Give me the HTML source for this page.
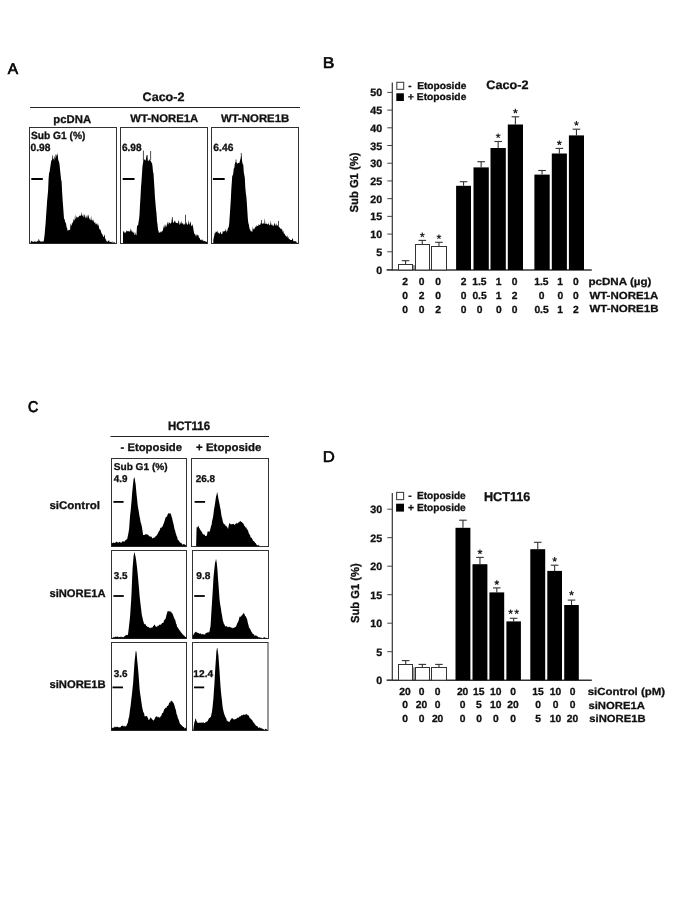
<!DOCTYPE html>
<html><head><meta charset="utf-8"><style>
html,body{margin:0;padding:0;background:#fff;}
svg{display:block;will-change:transform;}
text{font-family:"Liberation Sans",sans-serif;text-rendering:geometricPrecision;}
</style></head><body>
<svg width="685" height="913" viewBox="0 0 685 913">
<rect width="685" height="913" fill="#fff"/>
<text transform="translate(7.67,73.60) scale(0.9974,1)" font-size="15.60" font-weight="normal" fill="#000" stroke="#000" stroke-width="0.652">A</text>
<text transform="translate(142.57,100.60) scale(1.0309,1)" font-size="12.20" font-weight="bold" fill="#111" stroke="#111" stroke-width="0.291">Caco-2</text>
<line x1="30" y1="107.5" x2="300" y2="107.5" stroke="#222" stroke-width="1.1"/>
<text transform="translate(53.35,122.50) scale(1.0135,1)" font-size="11.20" font-weight="bold" fill="#111" stroke="#111" stroke-width="0.296">pcDNA</text>
<text transform="translate(130.28,122.10) scale(1.0306,1)" font-size="11.00" font-weight="bold" fill="#111" stroke="#111" stroke-width="0.291">WT-NORE1A</text>
<text transform="translate(220.98,122.10) scale(1.0340,1)" font-size="11.00" font-weight="bold" fill="#111" stroke="#111" stroke-width="0.290">WT-NORE1B</text>
<rect x="29.50" y="127.50" width="87.00" height="116.00" fill="none" stroke="#333" stroke-width="1"/>
<rect x="120.50" y="127.50" width="87.00" height="116.00" fill="none" stroke="#333" stroke-width="1"/>
<rect x="211.50" y="127.50" width="87.00" height="116.00" fill="none" stroke="#333" stroke-width="1"/>
<text transform="translate(30.89,138.50) scale(0.9846,1)" font-size="10.40" font-weight="bold" fill="#111" stroke="#111" stroke-width="0.305">Sub G1 (%)</text>
<text transform="translate(30.49,150.60) scale(0.9841,1)" font-size="10.40" font-weight="bold" fill="#111" stroke="#111" stroke-width="0.305">0.98</text>
<text transform="translate(121.94,150.60) scale(0.9718,1)" font-size="10.40" font-weight="bold" fill="#111" stroke="#111" stroke-width="0.309">6.98</text>
<text transform="translate(213.33,150.60) scale(0.9903,1)" font-size="10.40" font-weight="bold" fill="#111" stroke="#111" stroke-width="0.303">6.46</text>
<path d="M30.6,243.3 L30.6,241.8 L31.1,241.6 L31.6,240.5 L32.1,241.7 L32.6,241.6 L33.1,241.5 L33.6,241.9 L34.1,241.6 L34.6,241.4 L35.1,240.9 L35.6,241.9 L36.1,241.7 L36.6,241.9 L37.1,240.8 L37.6,241.1 L38.1,241.8 L38.6,239.1 L39.1,239.5 L39.6,241.1 L40.1,241.1 L40.6,241.7 L41.1,241.7 L41.6,241.2 L42.1,241.7 L42.6,241.5 L43.1,241.5 L43.6,241.6 L44.1,238.8 L44.6,234.8 L45.1,228.7 L45.6,223.2 L46.1,215.4 L46.6,208.7 L47.1,201.0 L47.6,195.9 L48.1,190.5 L48.6,178.7 L49.1,173.0 L49.6,171.9 L50.1,168.3 L50.6,165.0 L51.1,161.4 L51.6,160.3 L52.1,159.7 L52.6,157.5 L53.1,159.6 L53.6,158.1 L54.1,160.9 L54.6,156.1 L55.1,157.0 L55.6,158.7 L56.1,157.6 L56.6,154.3 L57.1,157.3 L57.6,152.2 L58.1,159.0 L58.6,161.0 L59.1,161.9 L59.6,164.9 L60.1,170.6 L60.6,174.8 L61.1,179.8 L61.6,181.6 L62.1,191.3 L62.6,199.9 L63.1,206.2 L63.6,213.0 L64.1,219.7 L64.6,218.5 L65.1,222.1 L65.6,222.4 L66.1,224.1 L66.6,227.3 L67.1,228.0 L67.6,231.3 L68.1,229.6 L68.6,230.8 L69.1,229.9 L69.6,230.1 L70.1,229.5 L70.6,223.2 L71.1,225.1 L71.6,225.9 L72.1,221.8 L72.6,223.7 L73.1,222.1 L73.6,219.0 L74.1,219.8 L74.6,220.7 L75.1,213.9 L75.6,219.3 L76.1,218.6 L76.6,216.1 L77.1,217.5 L77.6,217.3 L78.1,217.4 L78.6,217.1 L79.1,215.5 L79.6,216.2 L80.1,215.0 L80.6,215.9 L81.1,215.7 L81.6,211.7 L82.1,215.9 L82.6,215.7 L83.1,213.9 L83.6,217.0 L84.1,217.3 L84.6,214.0 L85.1,215.4 L85.6,217.9 L86.1,218.2 L86.6,216.6 L87.1,214.4 L87.6,218.7 L88.1,214.4 L88.6,215.9 L89.1,218.1 L89.6,218.8 L90.1,219.8 L90.6,220.3 L91.1,215.4 L91.6,220.6 L92.1,219.4 L92.6,221.2 L93.1,219.3 L93.6,220.9 L94.1,222.3 L94.6,223.1 L95.1,221.8 L95.6,224.2 L96.1,224.4 L96.6,224.0 L97.1,222.8 L97.6,224.8 L98.1,226.6 L98.6,223.8 L99.1,228.2 L99.6,229.2 L100.1,229.5 L100.6,230.1 L101.1,232.2 L101.6,233.2 L102.1,234.1 L102.6,234.7 L103.1,236.9 L103.6,237.1 L104.1,235.4 L104.6,234.2 L105.1,238.4 L105.6,239.0 L106.1,240.0 L106.6,241.3 L107.1,241.7 L107.6,241.8 L108.1,240.3 L108.6,241.2 L109.1,240.0 L109.6,242.3 L110.1,241.8 L110.6,242.1 L111.1,241.9 L111.6,242.5 L112.1,240.7 L112.6,242.9 L113.1,242.6 L113.6,242.4 L114.1,242.1 L114.6,242.6 L115.1,242.8 L115.4,243.3 Z" fill="#000"/>
<line x1="52.6" y1="155.5" x2="52.6" y2="161.5" stroke="#000" stroke-width="0.7"/>
<line x1="55.8" y1="154.5" x2="55.8" y2="160.5" stroke="#000" stroke-width="0.7"/>
<line x1="57.4" y1="155" x2="57.4" y2="160" stroke="#000" stroke-width="0.7"/>
<path d="M123.0,243.3 L123.0,231.9 L123.5,231.2 L124.0,231.2 L124.5,232.7 L125.0,232.9 L125.5,232.2 L126.0,232.4 L126.5,230.3 L127.0,231.0 L127.5,231.3 L128.0,231.3 L128.5,230.7 L129.0,232.0 L129.5,231.2 L130.0,231.6 L130.5,228.0 L131.0,231.7 L131.5,229.5 L132.0,232.5 L132.5,231.1 L133.0,232.7 L133.5,233.0 L134.0,231.2 L134.5,234.7 L135.0,235.3 L135.5,232.1 L136.0,235.6 L136.5,234.7 L137.0,225.9 L137.5,224.9 L138.0,226.1 L138.5,222.2 L139.0,219.5 L139.5,214.7 L140.0,204.7 L140.5,196.9 L141.0,187.1 L141.5,181.3 L142.0,173.5 L142.5,166.0 L143.0,162.9 L143.5,159.8 L144.0,159.2 L144.5,159.6 L145.0,159.9 L145.5,160.7 L146.0,158.9 L146.5,155.8 L147.0,155.5 L147.5,160.0 L148.0,161.2 L148.5,160.9 L149.0,159.5 L149.5,159.4 L150.0,160.7 L150.5,160.2 L151.0,161.6 L151.5,162.8 L152.0,163.0 L152.5,166.2 L153.0,171.8 L153.5,173.6 L154.0,181.4 L154.5,189.2 L155.0,198.0 L155.5,203.6 L156.0,209.4 L156.5,213.4 L157.0,221.2 L157.5,224.4 L158.0,229.4 L158.5,231.1 L159.0,232.9 L159.5,232.4 L160.0,232.3 L160.5,231.3 L161.0,232.9 L161.5,231.5 L162.0,231.6 L162.5,230.9 L163.0,229.9 L163.5,225.4 L164.0,228.8 L164.5,224.3 L165.0,228.3 L165.5,223.9 L166.0,226.7 L166.5,226.4 L167.0,223.9 L167.5,221.6 L168.0,224.9 L168.5,223.8 L169.0,221.4 L169.5,223.0 L170.0,223.2 L170.5,223.5 L171.0,223.4 L171.5,221.9 L172.0,217.0 L172.5,216.9 L173.0,222.1 L173.5,223.1 L174.0,222.5 L174.5,220.7 L175.0,220.5 L175.5,221.9 L176.0,223.3 L176.5,222.7 L177.0,223.1 L177.5,222.8 L178.0,224.0 L178.5,220.0 L179.0,221.3 L179.5,224.8 L180.0,224.5 L180.5,221.8 L181.0,224.5 L181.5,220.5 L182.0,223.9 L182.5,223.2 L183.0,223.1 L183.5,224.7 L184.0,224.5 L184.5,224.6 L185.0,223.2 L185.5,223.2 L186.0,224.8 L186.5,221.6 L187.0,224.2 L187.5,224.7 L188.0,224.5 L188.5,219.4 L189.0,224.6 L189.5,224.6 L190.0,222.3 L190.5,221.4 L191.0,224.6 L191.5,226.3 L192.0,225.9 L192.5,223.9 L193.0,226.7 L193.5,229.8 L194.0,232.5 L194.5,234.4 L195.0,233.8 L195.5,235.0 L196.0,236.7 L196.5,235.2 L197.0,234.0 L197.5,235.5 L198.0,235.1 L198.5,235.4 L199.0,238.0 L199.5,237.5 L200.0,239.1 L200.5,239.9 L201.0,240.0 L201.5,240.5 L202.0,238.8 L202.5,240.2 L203.0,240.7 L203.5,240.6 L204.0,241.4 L204.5,241.1 L205.0,240.9 L205.5,241.5 L206.0,241.8 L206.5,241.7 L207.0,241.9 L207.0,243.3 Z" fill="#000"/>
<line x1="143.4" y1="150.5" x2="143.4" y2="160.5" stroke="#000" stroke-width="0.7"/>
<line x1="150.6" y1="151" x2="150.6" y2="160" stroke="#000" stroke-width="0.7"/>
<line x1="147.2" y1="155" x2="147.2" y2="161" stroke="#000" stroke-width="0.7"/>
<line x1="185.5" y1="214.8" x2="185.5" y2="223.8" stroke="#000" stroke-width="0.7"/>
<path d="M213.3,243.3 L213.3,240.2 L213.8,237.4 L214.3,235.5 L214.8,232.5 L215.3,233.5 L215.8,231.6 L216.3,231.7 L216.8,232.0 L217.3,230.6 L217.8,232.9 L218.3,232.3 L218.8,233.6 L219.3,233.7 L219.8,233.4 L220.3,231.4 L220.8,232.8 L221.3,234.2 L221.8,233.7 L222.3,234.0 L222.8,231.0 L223.3,231.5 L223.8,231.4 L224.3,231.1 L224.8,231.5 L225.3,228.8 L225.8,230.9 L226.3,232.7 L226.8,230.0 L227.3,231.2 L227.8,228.4 L228.3,227.7 L228.8,226.5 L229.3,222.6 L229.8,214.9 L230.3,207.6 L230.8,200.0 L231.3,189.4 L231.8,182.4 L232.3,174.9 L232.8,175.8 L233.3,172.8 L233.8,168.5 L234.3,168.0 L234.8,164.0 L235.3,162.5 L235.8,161.9 L236.3,162.5 L236.8,162.4 L237.3,163.8 L237.8,163.5 L238.3,162.7 L238.8,163.0 L239.3,163.2 L239.8,161.3 L240.3,159.8 L240.8,157.7 L241.3,155.6 L241.8,158.6 L242.3,162.5 L242.8,164.3 L243.3,164.7 L243.8,172.5 L244.3,175.0 L244.8,177.8 L245.3,187.4 L245.8,192.7 L246.3,196.2 L246.8,202.5 L247.3,210.3 L247.8,218.2 L248.3,223.0 L248.8,224.2 L249.3,227.5 L249.8,229.3 L250.3,231.7 L250.8,229.3 L251.3,231.9 L251.8,230.8 L252.3,232.3 L252.8,226.2 L253.3,229.8 L253.8,228.5 L254.3,229.5 L254.8,227.7 L255.3,227.2 L255.8,226.5 L256.3,226.7 L256.8,225.0 L257.3,226.1 L257.8,225.9 L258.3,225.8 L258.8,223.9 L259.3,225.3 L259.8,224.7 L260.3,224.8 L260.8,223.1 L261.3,223.3 L261.8,223.2 L262.3,224.2 L262.8,223.2 L263.3,223.3 L263.8,223.6 L264.3,223.9 L264.8,217.7 L265.3,224.0 L265.8,223.8 L266.3,224.1 L266.8,223.3 L267.3,224.8 L267.8,224.0 L268.3,224.5 L268.8,222.4 L269.3,225.4 L269.8,224.9 L270.3,224.6 L270.8,220.2 L271.3,224.8 L271.8,225.0 L272.3,224.4 L272.8,225.7 L273.3,226.3 L273.8,225.2 L274.3,222.5 L274.8,224.2 L275.3,225.9 L275.8,224.5 L276.3,223.3 L276.8,225.9 L277.3,224.9 L277.8,225.7 L278.3,225.9 L278.8,226.4 L279.3,227.2 L279.8,227.4 L280.3,228.7 L280.8,228.5 L281.3,229.8 L281.8,228.3 L282.3,229.9 L282.8,232.2 L283.3,230.6 L283.8,233.5 L284.3,233.5 L284.8,234.1 L285.3,235.3 L285.8,235.9 L286.3,236.1 L286.8,237.2 L287.3,235.1 L287.8,238.2 L288.3,236.7 L288.8,239.0 L289.3,239.1 L289.8,239.2 L290.3,239.9 L290.8,240.0 L291.3,240.0 L291.8,240.1 L292.3,239.0 L292.8,237.7 L293.3,241.3 L293.8,240.9 L294.3,241.6 L294.8,240.8 L295.3,241.8 L295.8,240.8 L296.3,242.0 L296.8,242.5 L297.3,242.8 L297.4,243.3 Z" fill="#000"/>
<line x1="241.3" y1="153" x2="241.3" y2="161" stroke="#000" stroke-width="0.7"/>
<line x1="236" y1="159.5" x2="236" y2="164.5" stroke="#000" stroke-width="0.7"/>
<line x1="261.5" y1="220" x2="261.5" y2="225" stroke="#000" stroke-width="0.7"/>
<line x1="278.5" y1="221" x2="278.5" y2="226" stroke="#000" stroke-width="0.7"/>
<line x1="31.3" y1="179" x2="42.8" y2="179" stroke="#000" stroke-width="2"/>
<line x1="122.7" y1="179" x2="134.5" y2="179" stroke="#000" stroke-width="2"/>
<line x1="212.9" y1="179" x2="224.7" y2="179" stroke="#000" stroke-width="2"/>
<text transform="translate(322.87,67.50) scale(1.1351,1)" font-size="15.40" font-weight="normal" fill="#000" stroke="#000" stroke-width="0.573">B</text>
<rect x="413.00" y="265.00" width="2.00" height="5.00" fill="#999"/>
<line x1="392.3" y1="82.4" x2="392.3" y2="270.5" stroke="#333" stroke-width="1.2"/>
<line x1="386.6" y1="270.0" x2="591.8" y2="270.0" stroke="#333" stroke-width="1.4"/>
<line x1="387.3" y1="269.5" x2="392.3" y2="269.5" stroke="#444" stroke-width="1"/>
<text x="376.28" y="273.53" font-size="10.70" font-weight="bold" fill="#111" stroke="#111" stroke-width="0.300">0</text>
<line x1="387.3" y1="251.79" x2="392.3" y2="251.79" stroke="#444" stroke-width="1"/>
<text x="376.15" y="255.77" font-size="10.70" font-weight="bold" fill="#111" stroke="#111" stroke-width="0.300">5</text>
<line x1="387.3" y1="234.07999999999998" x2="392.3" y2="234.07999999999998" stroke="#444" stroke-width="1"/>
<text x="370.33" y="238.11" font-size="10.70" font-weight="bold" fill="#111" stroke="#111" stroke-width="0.300">10</text>
<line x1="387.3" y1="216.37" x2="392.3" y2="216.37" stroke="#444" stroke-width="1"/>
<text x="370.20" y="220.35" font-size="10.70" font-weight="bold" fill="#111" stroke="#111" stroke-width="0.300">15</text>
<line x1="387.3" y1="198.66" x2="392.3" y2="198.66" stroke="#444" stroke-width="1"/>
<text x="370.33" y="202.69" font-size="10.70" font-weight="bold" fill="#111" stroke="#111" stroke-width="0.300">20</text>
<line x1="387.3" y1="180.95" x2="392.3" y2="180.95" stroke="#444" stroke-width="1"/>
<text x="370.20" y="184.98" font-size="10.70" font-weight="bold" fill="#111" stroke="#111" stroke-width="0.300">25</text>
<line x1="387.3" y1="163.24" x2="392.3" y2="163.24" stroke="#444" stroke-width="1"/>
<text x="370.33" y="167.27" font-size="10.70" font-weight="bold" fill="#111" stroke="#111" stroke-width="0.300">30</text>
<line x1="387.3" y1="145.53" x2="392.3" y2="145.53" stroke="#444" stroke-width="1"/>
<text x="370.20" y="149.56" font-size="10.70" font-weight="bold" fill="#111" stroke="#111" stroke-width="0.300">35</text>
<line x1="387.3" y1="127.82" x2="392.3" y2="127.82" stroke="#444" stroke-width="1"/>
<text x="370.33" y="131.85" font-size="10.70" font-weight="bold" fill="#111" stroke="#111" stroke-width="0.300">40</text>
<line x1="387.3" y1="110.11000000000001" x2="392.3" y2="110.11000000000001" stroke="#444" stroke-width="1"/>
<text x="370.20" y="114.09" font-size="10.70" font-weight="bold" fill="#111" stroke="#111" stroke-width="0.300">45</text>
<line x1="387.3" y1="92.4" x2="392.3" y2="92.4" stroke="#444" stroke-width="1"/>
<text x="370.33" y="96.43" font-size="10.70" font-weight="bold" fill="#111" stroke="#111" stroke-width="0.300">50</text>
<line x1="405.54999999999995" y1="264.2" x2="405.54999999999995" y2="260.7" stroke="#333" stroke-width="1.1"/>
<line x1="401.74999999999994" y1="260.7" x2="409.34999999999997" y2="260.7" stroke="#333" stroke-width="1.1"/>
<rect x="398.50" y="264.50" width="14.00" height="5.50" fill="#fff" stroke="#333" stroke-width="1"/>
<line x1="422.3" y1="244.7" x2="422.3" y2="240.4" stroke="#333" stroke-width="1.1"/>
<line x1="418.5" y1="240.4" x2="426.1" y2="240.4" stroke="#333" stroke-width="1.1"/>
<rect x="415.50" y="244.50" width="14.00" height="25.50" fill="#fff" stroke="#333" stroke-width="1"/>
<path d="M422.30,235.00L422.30,232.60M422.30,235.00L424.58,234.26M422.30,235.00L423.71,236.94M422.30,235.00L420.89,236.94M422.30,235.00L420.02,234.26" stroke="#222" stroke-width="1.15" stroke-linecap="butt" fill="none"/>
<line x1="438.95" y1="246.4" x2="438.95" y2="242.3" stroke="#333" stroke-width="1.1"/>
<line x1="435.15" y1="242.3" x2="442.75" y2="242.3" stroke="#333" stroke-width="1.1"/>
<rect x="431.50" y="246.50" width="15.00" height="23.50" fill="#fff" stroke="#333" stroke-width="1"/>
<path d="M438.95,236.80L438.95,234.40M438.95,236.80L441.23,236.06M438.95,236.80L440.36,238.74M438.95,236.80L437.54,238.74M438.95,236.80L436.67,236.06" stroke="#222" stroke-width="1.15" stroke-linecap="butt" fill="none"/>
<line x1="463.55" y1="185.8" x2="463.55" y2="181.7" stroke="#333" stroke-width="1.1"/>
<line x1="459.75" y1="181.7" x2="467.35" y2="181.7" stroke="#333" stroke-width="1.1"/>
<rect x="456.10" y="185.80" width="14.90" height="84.20" fill="#000"/>
<line x1="481.15" y1="167.4" x2="481.15" y2="161.7" stroke="#333" stroke-width="1.1"/>
<line x1="477.34999999999997" y1="161.7" x2="484.95" y2="161.7" stroke="#333" stroke-width="1.1"/>
<rect x="473.50" y="167.40" width="15.30" height="102.60" fill="#000"/>
<line x1="498.15" y1="148.0" x2="498.15" y2="141.5" stroke="#333" stroke-width="1.1"/>
<line x1="494.34999999999997" y1="141.5" x2="501.95" y2="141.5" stroke="#333" stroke-width="1.1"/>
<rect x="490.50" y="148.00" width="15.30" height="122.00" fill="#000"/>
<path d="M498.15,135.80L498.15,133.40M498.15,135.80L500.43,135.06M498.15,135.80L499.56,137.74M498.15,135.80L496.74,137.74M498.15,135.80L495.87,135.06" stroke="#222" stroke-width="1.15" stroke-linecap="butt" fill="none"/>
<line x1="515.4" y1="124.5" x2="515.4" y2="116.80000000000001" stroke="#333" stroke-width="1.1"/>
<line x1="511.59999999999997" y1="116.80000000000001" x2="519.1999999999999" y2="116.80000000000001" stroke="#333" stroke-width="1.1"/>
<rect x="507.80" y="124.50" width="15.20" height="145.50" fill="#000"/>
<path d="M515.40,111.20L515.40,108.80M515.40,111.20L517.68,110.46M515.40,111.20L516.81,113.14M515.40,111.20L513.99,113.14M515.40,111.20L513.12,110.46" stroke="#222" stroke-width="1.15" stroke-linecap="butt" fill="none"/>
<line x1="542.05" y1="174.6" x2="542.05" y2="170.5" stroke="#333" stroke-width="1.1"/>
<line x1="538.25" y1="170.5" x2="545.8499999999999" y2="170.5" stroke="#333" stroke-width="1.1"/>
<rect x="534.40" y="174.60" width="15.30" height="95.40" fill="#000"/>
<line x1="559.3499999999999" y1="153.5" x2="559.3499999999999" y2="148.40000000000003" stroke="#333" stroke-width="1.1"/>
<line x1="555.55" y1="148.40000000000003" x2="563.1499999999999" y2="148.40000000000003" stroke="#333" stroke-width="1.1"/>
<rect x="551.80" y="153.50" width="15.10" height="116.50" fill="#000"/>
<path d="M559.35,142.90L559.35,140.50M559.35,142.90L561.63,142.16M559.35,142.90L560.76,144.84M559.35,142.90L557.94,144.84M559.35,142.90L557.07,142.16" stroke="#222" stroke-width="1.15" stroke-linecap="butt" fill="none"/>
<line x1="576.45" y1="135.4" x2="576.45" y2="129.2" stroke="#333" stroke-width="1.1"/>
<line x1="572.6500000000001" y1="129.2" x2="580.25" y2="129.2" stroke="#333" stroke-width="1.1"/>
<rect x="568.90" y="135.40" width="15.10" height="134.60" fill="#000"/>
<path d="M576.45,123.50L576.45,121.10M576.45,123.50L578.73,122.76M576.45,123.50L577.86,125.44M576.45,123.50L575.04,125.44M576.45,123.50L574.17,122.76" stroke="#222" stroke-width="1.15" stroke-linecap="butt" fill="none"/>
<rect x="396.80" y="82.30" width="6.90" height="7.00" fill="#fff" stroke="#444" stroke-width="1.1"/>
<rect x="396.30" y="93.30" width="7.60" height="7.70" fill="#000"/>
<text x="408.31" y="88.60" font-size="9.80" font-weight="bold" fill="#111" stroke="#111" stroke-width="0.300">-</text>
<text transform="translate(417.13,88.60) scale(1.0389,1)" font-size="9.80" font-weight="bold" fill="#111" stroke="#111" stroke-width="0.289">Etoposide</text>
<text x="408.09" y="99.50" font-size="9.80" font-weight="bold" fill="#111" stroke="#111" stroke-width="0.300">+</text>
<text transform="translate(416.82,99.50) scale(1.0454,1)" font-size="9.80" font-weight="bold" fill="#111" stroke="#111" stroke-width="0.287">Etoposide</text>
<text transform="translate(486.27,89.30) scale(1.0300,1)" font-size="12.30" font-weight="bold" fill="#111" stroke="#111" stroke-width="0.291">Caco-2</text>
<g transform="translate(358.3,182.6) rotate(-90)">
<text transform="translate(-29.84,0) scale(0.9681,1)" font-size="11.6" font-weight="bold" fill="#111" stroke="#111" stroke-width="0.310">Sub G1 (%)</text>
</g>
<text x="402.37" y="285.10" font-size="10.30" font-weight="bold" fill="#111" stroke="#111" stroke-width="0.300">2</text>
<text x="418.64" y="285.10" font-size="10.30" font-weight="bold" fill="#111" stroke="#111" stroke-width="0.300">0</text>
<text x="435.24" y="285.10" font-size="10.30" font-weight="bold" fill="#111" stroke="#111" stroke-width="0.300">0</text>
<text x="460.67" y="285.10" font-size="10.30" font-weight="bold" fill="#111" stroke="#111" stroke-width="0.300">2</text>
<text x="472.27" y="285.10" font-size="10.30" font-weight="bold" fill="#111" stroke="#111" stroke-width="0.300">1.5</text>
<text x="495.76" y="285.10" font-size="10.30" font-weight="bold" fill="#111" stroke="#111" stroke-width="0.300">1</text>
<text x="511.74" y="285.10" font-size="10.30" font-weight="bold" fill="#111" stroke="#111" stroke-width="0.300">0</text>
<text x="534.27" y="285.10" font-size="10.30" font-weight="bold" fill="#111" stroke="#111" stroke-width="0.300">1.5</text>
<text x="557.36" y="285.10" font-size="10.30" font-weight="bold" fill="#111" stroke="#111" stroke-width="0.300">1</text>
<text x="573.04" y="285.10" font-size="10.30" font-weight="bold" fill="#111" stroke="#111" stroke-width="0.300">0</text>
<text x="402.34" y="298.90" font-size="10.30" font-weight="bold" fill="#111" stroke="#111" stroke-width="0.300">0</text>
<text x="418.67" y="298.90" font-size="10.30" font-weight="bold" fill="#111" stroke="#111" stroke-width="0.300">2</text>
<text x="435.24" y="298.90" font-size="10.30" font-weight="bold" fill="#111" stroke="#111" stroke-width="0.300">0</text>
<text x="460.64" y="298.90" font-size="10.30" font-weight="bold" fill="#111" stroke="#111" stroke-width="0.300">0</text>
<text x="472.38" y="298.90" font-size="10.30" font-weight="bold" fill="#111" stroke="#111" stroke-width="0.300">0.5</text>
<text x="495.76" y="298.90" font-size="10.30" font-weight="bold" fill="#111" stroke="#111" stroke-width="0.300">1</text>
<text x="511.77" y="298.90" font-size="10.30" font-weight="bold" fill="#111" stroke="#111" stroke-width="0.300">2</text>
<text x="538.74" y="298.90" font-size="10.30" font-weight="bold" fill="#111" stroke="#111" stroke-width="0.300">0</text>
<text x="557.54" y="298.90" font-size="10.30" font-weight="bold" fill="#111" stroke="#111" stroke-width="0.300">0</text>
<text x="573.04" y="298.90" font-size="10.30" font-weight="bold" fill="#111" stroke="#111" stroke-width="0.300">0</text>
<text x="402.34" y="312.70" font-size="10.30" font-weight="bold" fill="#111" stroke="#111" stroke-width="0.300">0</text>
<text x="418.64" y="312.70" font-size="10.30" font-weight="bold" fill="#111" stroke="#111" stroke-width="0.300">0</text>
<text x="435.27" y="312.70" font-size="10.30" font-weight="bold" fill="#111" stroke="#111" stroke-width="0.300">2</text>
<text x="460.64" y="312.70" font-size="10.30" font-weight="bold" fill="#111" stroke="#111" stroke-width="0.300">0</text>
<text x="476.74" y="312.70" font-size="10.30" font-weight="bold" fill="#111" stroke="#111" stroke-width="0.300">0</text>
<text x="495.94" y="312.70" font-size="10.30" font-weight="bold" fill="#111" stroke="#111" stroke-width="0.300">0</text>
<text x="511.74" y="312.70" font-size="10.30" font-weight="bold" fill="#111" stroke="#111" stroke-width="0.300">0</text>
<text x="534.38" y="312.70" font-size="10.30" font-weight="bold" fill="#111" stroke="#111" stroke-width="0.300">0.5</text>
<text x="557.36" y="312.70" font-size="10.30" font-weight="bold" fill="#111" stroke="#111" stroke-width="0.300">1</text>
<text x="573.07" y="312.70" font-size="10.30" font-weight="bold" fill="#111" stroke="#111" stroke-width="0.300">2</text>
<text transform="translate(588.43,285.10) scale(1.1277,1)" font-size="10.30" font-weight="bold" fill="#111" stroke="#111" stroke-width="0.266">pcDNA (µg)</text>
<text transform="translate(589.38,298.60) scale(1.1152,1)" font-size="10.30" font-weight="bold" fill="#111" stroke="#111" stroke-width="0.269">WT-NORE1A</text>
<text transform="translate(589.38,312.40) scale(1.1190,1)" font-size="10.30" font-weight="bold" fill="#111" stroke="#111" stroke-width="0.268">WT-NORE1B</text>
<text transform="translate(28.09,411.60) scale(0.9100,1)" font-size="15.60" font-weight="normal" fill="#000" stroke="#000" stroke-width="0.714">C</text>
<text transform="translate(168.04,430.30) scale(0.9302,1)" font-size="12.30" font-weight="bold" fill="#111" stroke="#111" stroke-width="0.323">HCT116</text>
<line x1="110.5" y1="436.5" x2="269" y2="436.5" stroke="#222" stroke-width="1.1"/>
<text transform="translate(120.55,450.70) scale(1.0259,1)" font-size="11.00" font-weight="bold" fill="#111" stroke="#111" stroke-width="0.292">- Etoposide</text>
<text transform="translate(196.12,450.70) scale(1.0401,1)" font-size="11.00" font-weight="bold" fill="#111" stroke="#111" stroke-width="0.288">+ Etoposide</text>
<rect x="111.50" y="458.50" width="75.00" height="88.00" fill="none" stroke="#333" stroke-width="1"/>
<rect x="191.50" y="458.50" width="77.00" height="88.00" fill="none" stroke="#333" stroke-width="1"/>
<rect x="111.50" y="550.50" width="75.00" height="88.00" fill="none" stroke="#333" stroke-width="1"/>
<rect x="192.50" y="550.50" width="76.00" height="88.00" fill="none" stroke="#333" stroke-width="1"/>
<rect x="111.50" y="642.50" width="75.00" height="88.00" fill="none" stroke="#333" stroke-width="1"/>
<rect x="192.50" y="642.50" width="75.50" height="88.00" fill="none" stroke="#333" stroke-width="1"/>
<text transform="translate(49.39,508.90) scale(1.0467,1)" font-size="11.00" font-weight="bold" fill="#111" stroke="#111" stroke-width="0.287">siControl</text>
<text transform="translate(49.40,596.90) scale(1.0195,1)" font-size="11.00" font-weight="bold" fill="#111" stroke="#111" stroke-width="0.294">siNORE1A</text>
<text transform="translate(49.39,688.00) scale(1.0237,1)" font-size="11.00" font-weight="bold" fill="#111" stroke="#111" stroke-width="0.293">siNORE1B</text>
<text transform="translate(113.70,470.00) scale(1.0247,1)" font-size="9.90" font-weight="bold" fill="#111" stroke="#111" stroke-width="0.293">Sub G1 (%)</text>
<text transform="translate(113.84,482.10) scale(0.9965,1)" font-size="9.90" font-weight="bold" fill="#111" stroke="#111" stroke-width="0.301">4.9</text>
<text transform="translate(195.76,481.80) scale(1.0090,1)" font-size="9.90" font-weight="bold" fill="#111" stroke="#111" stroke-width="0.297">26.8</text>
<text transform="translate(113.76,579.30) scale(0.9965,1)" font-size="9.90" font-weight="bold" fill="#111" stroke="#111" stroke-width="0.301">3.5</text>
<text transform="translate(196.25,579.30) scale(1.0284,1)" font-size="9.90" font-weight="bold" fill="#111" stroke="#111" stroke-width="0.292">9.8</text>
<text transform="translate(113.76,676.90) scale(1.0025,1)" font-size="9.90" font-weight="bold" fill="#111" stroke="#111" stroke-width="0.299">3.6</text>
<text transform="translate(193.37,676.90) scale(1.0273,1)" font-size="9.90" font-weight="bold" fill="#111" stroke="#111" stroke-width="0.292">12.4</text>
<path d="M111.6,546.3 L111.6,542.5 L112.1,543.2 L112.6,543.0 L113.1,542.7 L113.6,542.2 L114.1,543.1 L114.6,543.0 L115.1,542.4 L115.6,542.4 L116.1,542.0 L116.6,541.6 L117.1,542.2 L117.6,542.5 L118.1,541.7 L118.6,542.9 L119.1,542.0 L119.6,542.0 L120.1,541.6 L120.6,543.0 L121.1,542.5 L121.6,542.6 L122.1,542.1 L122.6,541.0 L123.1,541.4 L123.6,541.5 L124.1,540.8 L124.6,542.0 L125.1,540.7 L125.6,539.8 L126.1,540.4 L126.6,538.8 L127.1,539.6 L127.6,536.9 L128.1,534.7 L128.6,532.0 L129.1,529.1 L129.6,522.0 L130.1,515.3 L130.6,511.6 L131.1,505.7 L131.6,500.6 L132.1,493.2 L132.6,488.4 L133.1,483.7 L133.6,479.0 L134.1,477.9 L134.6,477.2 L135.1,481.2 L135.6,484.0 L136.1,489.2 L136.6,494.9 L137.1,499.1 L137.6,504.4 L138.1,507.8 L138.6,510.4 L139.1,513.7 L139.6,516.8 L140.1,519.0 L140.6,522.3 L141.1,523.6 L141.6,525.4 L142.1,528.1 L142.6,531.8 L143.1,534.9 L143.6,535.1 L144.1,534.9 L144.6,534.8 L145.1,534.9 L145.6,533.8 L146.1,534.3 L146.6,534.3 L147.1,534.7 L147.6,534.4 L148.1,534.7 L148.6,535.3 L149.1,536.5 L149.6,536.0 L150.1,536.7 L150.6,536.5 L151.1,536.5 L151.6,536.7 L152.1,538.2 L152.6,538.5 L153.1,537.8 L153.6,538.0 L154.1,537.6 L154.6,537.6 L155.1,537.3 L155.6,535.9 L156.1,536.2 L156.6,535.6 L157.1,534.4 L157.6,534.3 L158.1,533.0 L158.6,532.0 L159.1,530.8 L159.6,530.8 L160.1,528.7 L160.6,527.5 L161.1,528.1 L161.6,527.5 L162.1,526.6 L162.6,526.6 L163.1,524.9 L163.6,523.7 L164.1,522.3 L164.6,521.0 L165.1,519.1 L165.6,517.5 L166.1,517.0 L166.6,516.9 L167.1,516.0 L167.6,514.7 L168.1,513.6 L168.6,513.1 L169.1,514.1 L169.6,513.3 L170.1,513.5 L170.6,513.3 L171.1,514.7 L171.6,516.8 L172.1,518.1 L172.6,520.6 L173.1,522.5 L173.6,524.5 L174.1,526.9 L174.6,529.4 L175.1,530.5 L175.6,532.9 L176.1,533.9 L176.6,536.2 L177.1,536.5 L177.6,539.1 L178.1,540.8 L178.6,539.8 L179.1,541.2 L179.6,541.8 L180.1,542.7 L180.6,542.7 L181.1,542.7 L181.6,543.3 L182.1,544.6 L182.6,544.8 L183.1,544.0 L183.6,544.2 L184.1,544.3 L184.6,544.3 L185.1,545.1 L185.6,544.7 L186.1,545.9 L186.4,546.3 Z" fill="#000"/>
<path d="M196.1,546.3 L196.1,546.3 L196.6,527.4 L197.1,526.7 L197.6,527.7 L198.1,525.8 L198.6,526.3 L199.1,527.9 L199.6,528.3 L200.1,530.0 L200.6,529.7 L201.1,531.6 L201.6,531.3 L202.1,532.5 L202.6,533.7 L203.1,533.8 L203.6,534.7 L204.1,534.8 L204.6,534.3 L205.1,536.0 L205.6,535.9 L206.1,535.8 L206.6,535.9 L207.1,534.5 L207.6,531.5 L208.1,531.3 L208.6,531.4 L209.1,532.1 L209.6,531.4 L210.1,529.9 L210.6,528.1 L211.1,525.9 L211.6,524.7 L212.1,521.0 L212.6,519.1 L213.1,516.7 L213.6,512.9 L214.1,508.8 L214.6,506.6 L215.1,503.2 L215.6,499.4 L216.1,496.2 L216.6,494.7 L217.1,491.7 L217.6,494.1 L218.1,496.7 L218.6,499.8 L219.1,501.9 L219.6,504.5 L220.1,507.2 L220.6,509.6 L221.1,513.1 L221.6,516.5 L222.1,518.1 L222.6,520.6 L223.1,522.5 L223.6,523.4 L224.1,524.3 L224.6,524.5 L225.1,524.3 L225.6,526.3 L226.1,525.8 L226.6,526.4 L227.1,526.8 L227.6,528.2 L228.1,528.7 L228.6,526.0 L229.1,523.8 L229.6,522.8 L230.1,524.4 L230.6,523.5 L231.1,524.5 L231.6,524.2 L232.1,524.1 L232.6,524.2 L233.1,523.9 L233.6,523.7 L234.1,524.5 L234.6,524.9 L235.1,524.4 L235.6,523.5 L236.1,524.0 L236.6,522.7 L237.1,523.1 L237.6,523.4 L238.1,523.2 L238.6,522.1 L239.1,522.4 L239.6,521.5 L240.1,521.2 L240.6,521.0 L241.1,522.0 L241.6,522.1 L242.1,522.2 L242.6,523.1 L243.1,523.4 L243.6,523.7 L244.1,525.2 L244.6,526.0 L245.1,526.4 L245.6,527.7 L246.1,526.9 L246.6,528.5 L247.1,529.4 L247.6,529.7 L248.1,530.4 L248.6,532.7 L249.1,533.7 L249.6,534.8 L250.1,535.3 L250.6,537.5 L251.1,537.4 L251.6,537.8 L252.1,538.7 L252.6,539.6 L253.1,541.2 L253.6,540.7 L254.1,541.4 L254.6,541.7 L255.1,542.9 L255.6,543.0 L256.1,543.8 L256.6,544.8 L257.1,545.3 L257.6,545.4 L258.1,544.4 L258.6,545.2 L259.1,546.2 L259.6,545.2 L259.8,546.3 Z" fill="#000"/>
<path d="M111.6,638.5 L111.6,638.1 L112.1,638.1 L112.6,638.0 L113.1,636.7 L113.6,637.4 L114.1,637.2 L114.6,637.3 L115.1,636.6 L115.6,636.7 L116.1,637.1 L116.6,636.7 L117.1,637.1 L117.6,636.3 L118.1,636.4 L118.6,637.4 L119.1,636.9 L119.6,637.0 L120.1,637.3 L120.6,636.7 L121.1,636.2 L121.6,637.4 L122.1,637.0 L122.6,637.1 L123.1,637.0 L123.6,637.6 L124.1,636.2 L124.6,636.5 L125.1,635.5 L125.6,635.4 L126.1,635.3 L126.6,634.9 L127.1,634.7 L127.6,635.5 L128.1,633.7 L128.6,629.6 L129.1,625.3 L129.6,621.1 L130.1,615.9 L130.6,608.4 L131.1,601.2 L131.6,591.8 L132.1,578.9 L132.6,568.0 L133.1,562.0 L133.6,555.9 L134.1,553.4 L134.6,551.9 L135.1,555.1 L135.6,557.1 L136.1,560.0 L136.6,564.0 L137.1,568.1 L137.6,572.9 L138.1,578.2 L138.6,583.7 L139.1,589.5 L139.6,596.0 L140.1,600.4 L140.6,605.1 L141.1,608.7 L141.6,613.3 L142.1,616.2 L142.6,617.9 L143.1,620.7 L143.6,621.7 L144.1,624.5 L144.6,623.4 L145.1,624.4 L145.6,624.1 L146.1,625.7 L146.6,625.9 L147.1,626.6 L147.6,626.7 L148.1,627.2 L148.6,626.8 L149.1,627.9 L149.6,627.7 L150.1,627.3 L150.6,628.5 L151.1,627.7 L151.6,627.6 L152.1,627.6 L152.6,627.6 L153.1,626.0 L153.6,626.1 L154.1,624.9 L154.6,624.6 L155.1,625.2 L155.6,626.7 L156.1,626.5 L156.6,626.8 L157.1,626.9 L157.6,625.7 L158.1,625.6 L158.6,626.0 L159.1,625.0 L159.6,624.5 L160.1,625.0 L160.6,624.6 L161.1,624.4 L161.6,623.7 L162.1,622.9 L162.6,623.0 L163.1,622.9 L163.6,621.9 L164.1,620.5 L164.6,619.8 L165.1,619.3 L165.6,618.8 L166.1,616.5 L166.6,614.5 L167.1,612.9 L167.6,610.9 L168.1,611.6 L168.6,611.1 L169.1,611.3 L169.6,611.7 L170.1,610.6 L170.6,612.2 L171.1,611.5 L171.6,612.8 L172.1,613.4 L172.6,613.6 L173.1,615.3 L173.6,616.5 L174.1,617.7 L174.6,619.3 L175.1,619.5 L175.6,621.6 L176.1,623.8 L176.6,624.2 L177.1,626.9 L177.6,627.0 L178.1,628.5 L178.6,628.5 L179.1,629.7 L179.6,630.4 L180.1,630.5 L180.6,632.1 L181.1,632.3 L181.6,633.3 L182.1,633.6 L182.6,634.2 L183.1,634.7 L183.6,634.9 L184.1,636.3 L184.6,635.5 L185.1,637.0 L185.6,637.1 L186.1,636.7 L186.4,638.5 Z" fill="#000"/>
<path d="M193.0,638.5 L193.0,635.3 L193.5,634.9 L194.0,633.1 L194.5,633.8 L195.0,631.8 L195.5,632.3 L196.0,631.5 L196.5,632.7 L197.0,631.9 L197.5,632.9 L198.0,633.1 L198.5,633.3 L199.0,633.0 L199.5,633.8 L200.0,634.2 L200.5,633.0 L201.0,633.8 L201.5,634.6 L202.0,634.3 L202.5,633.9 L203.0,633.8 L203.5,634.9 L204.0,633.6 L204.5,634.8 L205.0,634.8 L205.5,633.3 L206.0,633.2 L206.5,632.8 L207.0,632.8 L207.5,632.2 L208.0,632.8 L208.5,632.6 L209.0,631.4 L209.5,632.0 L210.0,628.6 L210.5,626.6 L211.0,618.5 L211.5,610.1 L212.0,602.2 L212.5,594.5 L213.0,586.3 L213.5,577.3 L214.0,572.2 L214.5,568.0 L215.0,562.7 L215.5,561.4 L216.0,558.8 L216.5,561.2 L217.0,565.2 L217.5,570.6 L218.0,578.6 L218.5,584.7 L219.0,591.8 L219.5,599.1 L220.0,603.3 L220.5,606.2 L221.0,609.1 L221.5,613.0 L222.0,615.1 L222.5,618.4 L223.0,621.0 L223.5,622.6 L224.0,624.3 L224.5,624.6 L225.0,625.8 L225.5,626.7 L226.0,625.9 L226.5,626.0 L227.0,626.8 L227.5,626.7 L228.0,627.6 L228.5,626.7 L229.0,627.0 L229.5,626.6 L230.0,627.3 L230.5,627.2 L231.0,627.5 L231.5,628.1 L232.0,627.0 L232.5,628.5 L233.0,628.0 L233.5,628.1 L234.0,627.6 L234.5,627.6 L235.0,627.2 L235.5,627.1 L236.0,626.5 L236.5,625.3 L237.0,623.9 L237.5,622.7 L238.0,622.3 L238.5,620.7 L239.0,619.2 L239.5,616.8 L240.0,616.7 L240.5,616.7 L241.0,616.4 L241.5,615.5 L242.0,615.3 L242.5,615.0 L243.0,613.4 L243.5,612.9 L244.0,613.8 L244.5,614.1 L245.0,615.8 L245.5,616.2 L246.0,616.6 L246.5,618.3 L247.0,618.7 L247.5,621.3 L248.0,623.5 L248.5,625.1 L249.0,627.8 L249.5,627.7 L250.0,629.1 L250.5,629.7 L251.0,630.5 L251.5,632.6 L252.0,631.9 L252.5,633.8 L253.0,633.7 L253.5,634.4 L254.0,633.9 L254.5,635.8 L255.0,636.1 L255.5,635.2 L256.0,635.5 L256.5,635.6 L257.0,636.4 L257.5,635.9 L258.0,637.2 L258.5,636.9 L259.0,637.4 L259.5,636.9 L260.0,637.7 L260.5,637.4 L261.0,637.7 L261.5,637.4 L262.0,638.4 L262.5,638.2 L263.0,638.2 L263.5,637.5 L264.0,637.3 L264.5,637.2 L265.0,637.2 L265.5,638.5 L266.0,637.6 L266.5,638.5 L267.0,637.6 L267.0,638.5 Z" fill="#000"/>
<path d="M111.6,730.3 L111.6,727.4 L112.1,728.2 L112.6,728.0 L113.1,726.9 L113.6,727.9 L114.1,727.4 L114.6,726.4 L115.1,727.7 L115.6,726.6 L116.1,726.7 L116.6,726.9 L117.1,727.1 L117.6,726.4 L118.1,727.3 L118.6,727.5 L119.1,727.0 L119.6,727.5 L120.1,727.2 L120.6,727.3 L121.1,726.0 L121.6,726.1 L122.1,726.1 L122.6,725.3 L123.1,726.6 L123.6,726.3 L124.1,725.6 L124.6,726.6 L125.1,726.5 L125.6,726.3 L126.1,726.2 L126.6,725.5 L127.1,723.7 L127.6,723.4 L128.1,721.3 L128.6,718.3 L129.1,717.0 L129.6,712.9 L130.1,709.1 L130.6,706.1 L131.1,701.2 L131.6,697.1 L132.1,692.7 L132.6,687.8 L133.1,683.3 L133.6,675.8 L134.1,668.3 L134.6,661.3 L135.1,657.1 L135.6,651.7 L136.1,650.7 L136.6,653.0 L137.1,658.9 L137.6,664.0 L138.1,669.2 L138.6,675.1 L139.1,681.7 L139.6,689.3 L140.1,693.2 L140.6,696.4 L141.1,700.1 L141.6,703.4 L142.1,706.7 L142.6,709.3 L143.1,711.5 L143.6,712.4 L144.1,713.6 L144.6,716.2 L145.1,716.6 L145.6,715.9 L146.1,716.2 L146.6,716.0 L147.1,716.2 L147.6,717.4 L148.1,718.5 L148.6,720.1 L149.1,719.7 L149.6,719.2 L150.1,718.0 L150.6,717.3 L151.1,718.8 L151.6,717.9 L152.1,719.4 L152.6,719.4 L153.1,720.5 L153.6,720.6 L154.1,719.7 L154.6,719.0 L155.1,717.7 L155.6,716.7 L156.1,717.2 L156.6,715.9 L157.1,715.9 L157.6,717.4 L158.1,717.3 L158.6,716.7 L159.1,717.8 L159.6,717.3 L160.1,717.7 L160.6,716.0 L161.1,716.3 L161.6,715.0 L162.1,713.3 L162.6,712.9 L163.1,712.7 L163.6,711.3 L164.1,709.4 L164.6,709.1 L165.1,708.4 L165.6,707.6 L166.1,707.9 L166.6,707.6 L167.1,706.1 L167.6,705.9 L168.1,705.6 L168.6,704.9 L169.1,702.9 L169.6,702.2 L170.1,702.9 L170.6,701.3 L171.1,700.4 L171.6,701.3 L172.1,700.9 L172.6,702.1 L173.1,702.6 L173.6,703.1 L174.1,704.7 L174.6,705.8 L175.1,708.1 L175.6,709.3 L176.1,711.2 L176.6,714.2 L177.1,715.0 L177.6,717.0 L178.1,718.8 L178.6,719.6 L179.1,721.1 L179.6,722.8 L180.1,724.2 L180.6,724.1 L181.1,725.2 L181.6,725.0 L182.1,726.1 L182.6,726.3 L183.1,726.9 L183.6,727.0 L184.1,727.3 L184.6,728.4 L185.1,728.3 L185.6,727.8 L186.1,727.4 L186.4,730.3 Z" fill="#000"/>
<path d="M193.4,730.3 L193.4,729.2 L193.9,725.3 L194.4,722.3 L194.9,720.9 L195.4,718.5 L195.9,718.8 L196.4,720.8 L196.9,721.7 L197.4,723.0 L197.9,722.6 L198.4,722.7 L198.9,723.1 L199.4,723.1 L199.9,722.1 L200.4,722.8 L200.9,722.8 L201.4,723.2 L201.9,721.8 L202.4,723.3 L202.9,722.2 L203.4,722.2 L203.9,722.9 L204.4,723.1 L204.9,723.1 L205.4,722.0 L205.9,722.6 L206.4,721.1 L206.9,722.4 L207.4,721.0 L207.9,720.7 L208.4,719.4 L208.9,718.6 L209.4,717.8 L209.9,718.1 L210.4,717.3 L210.9,716.5 L211.4,714.6 L211.9,711.9 L212.4,708.6 L212.9,703.5 L213.4,698.8 L213.9,690.9 L214.4,684.6 L214.9,674.7 L215.4,666.2 L215.9,659.3 L216.4,651.5 L216.9,648.5 L217.4,647.7 L217.9,652.2 L218.4,655.4 L218.9,662.4 L219.4,669.3 L219.9,677.1 L220.4,685.0 L220.9,691.0 L221.4,696.1 L221.9,699.7 L222.4,705.1 L222.9,708.8 L223.4,710.8 L223.9,712.9 L224.4,714.4 L224.9,715.8 L225.4,717.0 L225.9,717.7 L226.4,718.8 L226.9,721.1 L227.4,720.4 L227.9,721.6 L228.4,721.6 L228.9,721.8 L229.4,722.1 L229.9,721.2 L230.4,720.0 L230.9,719.6 L231.4,718.8 L231.9,717.9 L232.4,718.0 L232.9,718.9 L233.4,719.0 L233.9,719.8 L234.4,719.3 L234.9,719.6 L235.4,718.9 L235.9,718.9 L236.4,719.1 L236.9,717.7 L237.4,717.5 L237.9,718.0 L238.4,717.6 L238.9,717.5 L239.4,716.6 L239.9,716.4 L240.4,716.0 L240.9,716.4 L241.4,715.2 L241.9,714.8 L242.4,715.6 L242.9,715.0 L243.4,714.1 L243.9,715.3 L244.4,714.4 L244.9,715.1 L245.4,714.6 L245.9,714.5 L246.4,714.2 L246.9,713.8 L247.4,715.3 L247.9,715.0 L248.4,715.5 L248.9,715.8 L249.4,717.2 L249.9,718.4 L250.4,718.0 L250.9,719.2 L251.4,719.5 L251.9,719.7 L252.4,720.4 L252.9,721.4 L253.4,722.7 L253.9,722.3 L254.4,723.4 L254.9,724.6 L255.4,724.8 L255.9,725.4 L256.4,726.0 L256.9,726.0 L257.4,726.8 L257.9,726.3 L258.4,728.1 L258.9,728.0 L259.4,727.2 L259.9,727.5 L260.4,728.5 L260.9,727.6 L261.4,728.7 L261.9,727.7 L262.4,728.7 L262.9,729.0 L263.4,728.9 L263.9,729.4 L264.4,729.7 L264.9,729.8 L265.4,728.4 L265.9,729.2 L266.4,728.7 L266.9,729.8 L267.0,730.3 Z" fill="#000"/>
<line x1="113.4" y1="501.9" x2="123.6" y2="501.9" stroke="#000" stroke-width="1.8"/>
<line x1="194.6" y1="501.9" x2="205.1" y2="501.9" stroke="#000" stroke-width="1.8"/>
<line x1="113.4" y1="596" x2="123.8" y2="596" stroke="#000" stroke-width="1.8"/>
<line x1="194.2" y1="596" x2="204.8" y2="596" stroke="#000" stroke-width="1.8"/>
<line x1="112.5" y1="687.4" x2="123" y2="687.4" stroke="#000" stroke-width="1.8"/>
<line x1="194" y1="687.4" x2="204.2" y2="687.4" stroke="#000" stroke-width="1.8"/>
<text transform="translate(322.63,461.90) scale(1.0720,1)" font-size="15.60" font-weight="normal" fill="#000" stroke="#000" stroke-width="0.606">D</text>
<rect x="413.00" y="667.50" width="2.00" height="12.50" fill="#999"/>
<line x1="392.3" y1="493.1" x2="392.3" y2="680.7" stroke="#333" stroke-width="1.2"/>
<line x1="386.6" y1="680.2" x2="591.8" y2="680.2" stroke="#333" stroke-width="1.4"/>
<line x1="387.3" y1="680.2" x2="392.3" y2="680.2" stroke="#444" stroke-width="1"/>
<text x="376.28" y="684.23" font-size="10.70" font-weight="bold" fill="#111" stroke="#111" stroke-width="0.300">0</text>
<line x1="387.3" y1="651.7" x2="392.3" y2="651.7" stroke="#444" stroke-width="1"/>
<text x="376.15" y="655.68" font-size="10.70" font-weight="bold" fill="#111" stroke="#111" stroke-width="0.300">5</text>
<line x1="387.3" y1="623.2" x2="392.3" y2="623.2" stroke="#444" stroke-width="1"/>
<text x="370.33" y="627.23" font-size="10.70" font-weight="bold" fill="#111" stroke="#111" stroke-width="0.300">10</text>
<line x1="387.3" y1="594.7" x2="392.3" y2="594.7" stroke="#444" stroke-width="1"/>
<text x="370.20" y="598.68" font-size="10.70" font-weight="bold" fill="#111" stroke="#111" stroke-width="0.300">15</text>
<line x1="387.3" y1="566.2" x2="392.3" y2="566.2" stroke="#444" stroke-width="1"/>
<text x="370.33" y="570.23" font-size="10.70" font-weight="bold" fill="#111" stroke="#111" stroke-width="0.300">20</text>
<line x1="387.3" y1="537.7" x2="392.3" y2="537.7" stroke="#444" stroke-width="1"/>
<text x="370.20" y="541.73" font-size="10.70" font-weight="bold" fill="#111" stroke="#111" stroke-width="0.300">25</text>
<line x1="387.3" y1="509.20000000000005" x2="392.3" y2="509.20000000000005" stroke="#444" stroke-width="1"/>
<text x="370.33" y="513.23" font-size="10.70" font-weight="bold" fill="#111" stroke="#111" stroke-width="0.300">30</text>
<line x1="405.7" y1="664.4" x2="405.7" y2="660.6" stroke="#333" stroke-width="1.1"/>
<line x1="401.9" y1="660.6" x2="409.5" y2="660.6" stroke="#333" stroke-width="1.1"/>
<rect x="398.50" y="664.50" width="14.00" height="15.70" fill="#fff" stroke="#333" stroke-width="1"/>
<line x1="422.3" y1="667.5" x2="422.3" y2="664.4" stroke="#333" stroke-width="1.1"/>
<line x1="418.5" y1="664.4" x2="426.1" y2="664.4" stroke="#333" stroke-width="1.1"/>
<rect x="415.50" y="667.50" width="14.00" height="12.70" fill="#fff" stroke="#333" stroke-width="1"/>
<line x1="438.95" y1="667.5" x2="438.95" y2="664.4" stroke="#333" stroke-width="1.1"/>
<line x1="435.15" y1="664.4" x2="442.75" y2="664.4" stroke="#333" stroke-width="1.1"/>
<rect x="431.50" y="667.50" width="15.00" height="12.70" fill="#fff" stroke="#333" stroke-width="1"/>
<line x1="462.95" y1="527.8" x2="462.95" y2="520.2" stroke="#333" stroke-width="1.1"/>
<line x1="459.15" y1="520.2" x2="466.75" y2="520.2" stroke="#333" stroke-width="1.1"/>
<rect x="455.50" y="527.80" width="14.90" height="152.40" fill="#000"/>
<line x1="479.95" y1="564.2" x2="479.95" y2="557.4" stroke="#333" stroke-width="1.1"/>
<line x1="476.15" y1="557.4" x2="483.75" y2="557.4" stroke="#333" stroke-width="1.1"/>
<rect x="472.50" y="564.20" width="14.90" height="116.00" fill="#000"/>
<path d="M479.95,551.90L479.95,549.50M479.95,551.90L482.23,551.16M479.95,551.90L481.36,553.84M479.95,551.90L478.54,553.84M479.95,551.90L477.67,551.16" stroke="#222" stroke-width="1.15" stroke-linecap="butt" fill="none"/>
<line x1="496.79999999999995" y1="592.4" x2="496.79999999999995" y2="587.9" stroke="#333" stroke-width="1.1"/>
<line x1="492.99999999999994" y1="587.9" x2="500.59999999999997" y2="587.9" stroke="#333" stroke-width="1.1"/>
<rect x="489.40" y="592.40" width="14.80" height="87.80" fill="#000"/>
<path d="M496.80,582.60L496.80,580.20M496.80,582.60L499.08,581.86M496.80,582.60L498.21,584.54M496.80,582.60L495.39,584.54M496.80,582.60L494.52,581.86" stroke="#222" stroke-width="1.15" stroke-linecap="butt" fill="none"/>
<line x1="513.65" y1="621.4" x2="513.65" y2="618.3" stroke="#333" stroke-width="1.1"/>
<line x1="509.84999999999997" y1="618.3" x2="517.4499999999999" y2="618.3" stroke="#333" stroke-width="1.1"/>
<rect x="506.40" y="621.40" width="14.50" height="58.80" fill="#000"/>
<path d="M510.60,611.80L510.60,609.40M510.60,611.80L512.88,611.06M510.60,611.80L512.01,613.74M510.60,611.80L509.19,613.74M510.60,611.80L508.32,611.06" stroke="#222" stroke-width="1.15" stroke-linecap="butt" fill="none"/>
<path d="M516.70,611.80L516.70,609.40M516.70,611.80L518.98,611.06M516.70,611.80L518.11,613.74M516.70,611.80L515.29,613.74M516.70,611.80L514.42,611.06" stroke="#222" stroke-width="1.15" stroke-linecap="butt" fill="none"/>
<line x1="537.75" y1="549.2" x2="537.75" y2="542.3" stroke="#333" stroke-width="1.1"/>
<line x1="533.95" y1="542.3" x2="541.55" y2="542.3" stroke="#333" stroke-width="1.1"/>
<rect x="530.30" y="549.20" width="14.90" height="131.00" fill="#000"/>
<line x1="554.65" y1="570.9" x2="554.65" y2="565.2" stroke="#333" stroke-width="1.1"/>
<line x1="550.85" y1="565.2" x2="558.4499999999999" y2="565.2" stroke="#333" stroke-width="1.1"/>
<rect x="547.30" y="570.90" width="14.70" height="109.30" fill="#000"/>
<path d="M554.65,559.50L554.65,557.10M554.65,559.50L556.93,558.76M554.65,559.50L556.06,561.44M554.65,559.50L553.24,561.44M554.65,559.50L552.37,558.76" stroke="#222" stroke-width="1.15" stroke-linecap="butt" fill="none"/>
<line x1="571.5" y1="605.0" x2="571.5" y2="600.1" stroke="#333" stroke-width="1.1"/>
<line x1="567.7" y1="600.1" x2="575.3" y2="600.1" stroke="#333" stroke-width="1.1"/>
<rect x="564.20" y="605.00" width="14.60" height="75.20" fill="#000"/>
<path d="M571.50,593.20L571.50,590.80M571.50,593.20L573.78,592.46M571.50,593.20L572.91,595.14M571.50,593.20L570.09,595.14M571.50,593.20L569.22,592.46" stroke="#222" stroke-width="1.15" stroke-linecap="butt" fill="none"/>
<rect x="396.60" y="492.40" width="7.00" height="7.20" fill="#fff" stroke="#444" stroke-width="1.1"/>
<rect x="396.10" y="503.70" width="7.90" height="7.90" fill="#000"/>
<text x="408.29" y="499.20" font-size="10.30" font-weight="bold" fill="#111" stroke="#111" stroke-width="0.300">-</text>
<text transform="translate(417.03,499.20) scale(0.9783,1)" font-size="10.30" font-weight="bold" fill="#111" stroke="#111" stroke-width="0.307">Etoposide</text>
<text x="408.07" y="510.50" font-size="10.30" font-weight="bold" fill="#111" stroke="#111" stroke-width="0.300">+</text>
<text transform="translate(417.03,510.50) scale(0.9783,1)" font-size="10.30" font-weight="bold" fill="#111" stroke="#111" stroke-width="0.307">Etoposide</text>
<text transform="translate(483.97,500.90) scale(0.9958,1)" font-size="12.70" font-weight="bold" fill="#111" stroke="#111" stroke-width="0.301">HCT116</text>
<g transform="translate(359.2,593.2) rotate(-90)">
<text transform="translate(-29.84,0) scale(0.9681,1)" font-size="11.6" font-weight="bold" fill="#111" stroke="#111" stroke-width="0.310">Sub G1 (%)</text>
</g>
<text x="399.30" y="694.60" font-size="10.30" font-weight="bold" fill="#111" stroke="#111" stroke-width="0.300">20</text>
<text x="418.64" y="694.60" font-size="10.30" font-weight="bold" fill="#111" stroke="#111" stroke-width="0.300">0</text>
<text x="434.74" y="694.60" font-size="10.30" font-weight="bold" fill="#111" stroke="#111" stroke-width="0.300">0</text>
<text x="456.90" y="694.60" font-size="10.30" font-weight="bold" fill="#111" stroke="#111" stroke-width="0.300">20</text>
<text x="473.10" y="694.60" font-size="10.30" font-weight="bold" fill="#111" stroke="#111" stroke-width="0.300">15</text>
<text x="490.06" y="694.60" font-size="10.30" font-weight="bold" fill="#111" stroke="#111" stroke-width="0.300">10</text>
<text x="510.14" y="694.60" font-size="10.30" font-weight="bold" fill="#111" stroke="#111" stroke-width="0.300">0</text>
<text x="532.30" y="694.60" font-size="10.30" font-weight="bold" fill="#111" stroke="#111" stroke-width="0.300">15</text>
<text x="549.66" y="694.60" font-size="10.30" font-weight="bold" fill="#111" stroke="#111" stroke-width="0.300">10</text>
<text x="569.64" y="694.60" font-size="10.30" font-weight="bold" fill="#111" stroke="#111" stroke-width="0.300">0</text>
<text x="402.14" y="708.40" font-size="10.30" font-weight="bold" fill="#111" stroke="#111" stroke-width="0.300">0</text>
<text x="415.80" y="708.40" font-size="10.30" font-weight="bold" fill="#111" stroke="#111" stroke-width="0.300">20</text>
<text x="434.74" y="708.40" font-size="10.30" font-weight="bold" fill="#111" stroke="#111" stroke-width="0.300">0</text>
<text x="459.74" y="708.40" font-size="10.30" font-weight="bold" fill="#111" stroke="#111" stroke-width="0.300">0</text>
<text x="476.12" y="708.40" font-size="10.30" font-weight="bold" fill="#111" stroke="#111" stroke-width="0.300">5</text>
<text x="490.06" y="708.40" font-size="10.30" font-weight="bold" fill="#111" stroke="#111" stroke-width="0.300">10</text>
<text x="507.30" y="708.40" font-size="10.30" font-weight="bold" fill="#111" stroke="#111" stroke-width="0.300">20</text>
<text x="535.34" y="708.40" font-size="10.30" font-weight="bold" fill="#111" stroke="#111" stroke-width="0.300">0</text>
<text x="552.64" y="708.40" font-size="10.30" font-weight="bold" fill="#111" stroke="#111" stroke-width="0.300">0</text>
<text x="569.64" y="708.40" font-size="10.30" font-weight="bold" fill="#111" stroke="#111" stroke-width="0.300">0</text>
<text x="402.14" y="722.00" font-size="10.30" font-weight="bold" fill="#111" stroke="#111" stroke-width="0.300">0</text>
<text x="418.64" y="722.00" font-size="10.30" font-weight="bold" fill="#111" stroke="#111" stroke-width="0.300">0</text>
<text x="431.90" y="722.00" font-size="10.30" font-weight="bold" fill="#111" stroke="#111" stroke-width="0.300">20</text>
<text x="459.74" y="722.00" font-size="10.30" font-weight="bold" fill="#111" stroke="#111" stroke-width="0.300">0</text>
<text x="476.14" y="722.00" font-size="10.30" font-weight="bold" fill="#111" stroke="#111" stroke-width="0.300">0</text>
<text x="493.04" y="722.00" font-size="10.30" font-weight="bold" fill="#111" stroke="#111" stroke-width="0.300">0</text>
<text x="510.14" y="722.00" font-size="10.30" font-weight="bold" fill="#111" stroke="#111" stroke-width="0.300">0</text>
<text x="535.32" y="722.00" font-size="10.30" font-weight="bold" fill="#111" stroke="#111" stroke-width="0.300">5</text>
<text x="549.66" y="722.00" font-size="10.30" font-weight="bold" fill="#111" stroke="#111" stroke-width="0.300">10</text>
<text x="566.80" y="722.00" font-size="10.30" font-weight="bold" fill="#111" stroke="#111" stroke-width="0.300">20</text>
<text transform="translate(587.69,694.70) scale(1.1084,1)" font-size="10.30" font-weight="bold" fill="#111" stroke="#111" stroke-width="0.271">siControl (pM)</text>
<text transform="translate(588.39,708.50) scale(1.0967,1)" font-size="10.30" font-weight="bold" fill="#111" stroke="#111" stroke-width="0.274">siNORE1A</text>
<text transform="translate(589.29,722.30) scale(1.0932,1)" font-size="10.30" font-weight="bold" fill="#111" stroke="#111" stroke-width="0.274">siNORE1B</text>
</svg>
</body></html>
